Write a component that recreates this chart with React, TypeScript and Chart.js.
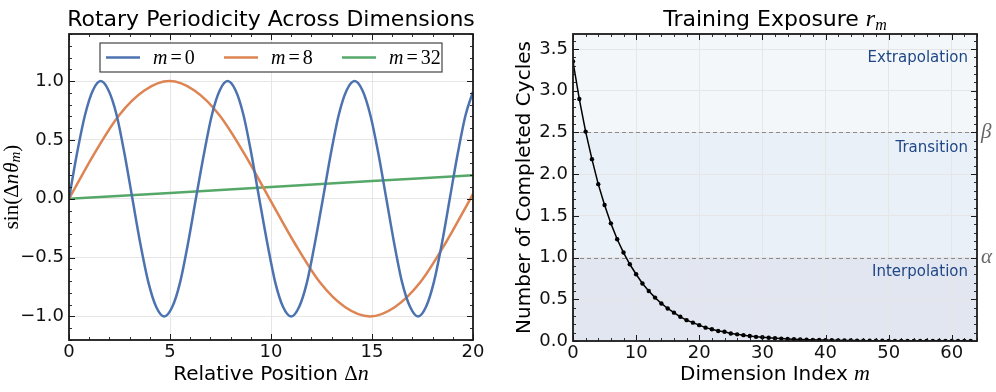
import React, { useEffect, useRef } from 'react';
import { Chart, registerables } from 'chart.js';
Chart.register(...registerables);

// ---------- data ----------
// Left panel: sin(Δn θ_m) for three dimensions
const seriesNames = ['0', '8', '32'];
const seriesColors = ['#4c72b0', '#dd8452', '#55a868'];

const posM0 = [0, 0.39, 0.79, 1.18, 1.57, 1.96, 2.36, 2.75, 3.14, 3.53, 3.93, 4.32, 4.71, 5.11, 5.5, 5.89,
  6.28, 6.68, 7.07, 7.46, 7.85, 8.25, 8.64, 9.03, 9.42, 9.82, 10.21, 10.6, 11.0, 11.39, 11.78, 12.17,
  12.57, 12.96, 13.35, 13.74, 14.14, 14.53, 14.92, 15.32, 15.71, 16.1, 16.49, 16.89, 17.28, 17.67, 18.06, 18.46,
  18.85, 19.24, 19.63, 20];
const sinM0 = [0, 0.38, 0.71, 0.92, 1, 0.92, 0.71, 0.38, 0, -0.38, -0.71, -0.92, -1, -0.92, -0.71, -0.38,
  0, 0.38, 0.71, 0.92, 1, 0.92, 0.71, 0.38, 0, -0.38, -0.71, -0.92, -1, -0.92, -0.71, -0.38,
  0, 0.38, 0.71, 0.92, 1, 0.92, 0.71, 0.38, 0, -0.38, -0.71, -0.92, -1, -0.92, -0.71, -0.38,
  0, 0.38, 0.71, 0.91];

const posM8 = [0, 1.24, 2.48, 3.73, 4.97, 6.21, 7.45, 8.69, 9.93, 11.18, 12.42, 13.66, 14.9, 16.14, 17.39, 18.63, 19.87, 20];
const sinM8 = [0, 0.38, 0.71, 0.92, 1, 0.92, 0.71, 0.38, 0, -0.38, -0.71, -0.92, -1, -0.92, -0.71, -0.38, 0, 0.04];

const posM32 = [0, 5, 10, 15, 20];
const sinM32 = [0, 0.05, 0.1, 0.15, 0.2];

// Right panel: completed cycles r_m per dimension index m = 0..63
const cyclesR = [3.35, 2.9, 2.51, 2.18, 1.88, 1.63, 1.41, 1.22, 1.06, 0.92,
  0.8, 0.69, 0.6, 0.52, 0.45, 0.39, 0.34, 0.29, 0.25, 0.22,
  0.19, 0.16, 0.14, 0.12, 0.11, 0.09, 0.08, 0.07, 0.06, 0.05,
  0.045, 0.039, 0.034, 0.029, 0.025, 0.022, 0.019, 0.016, 0.014, 0.012,
  0.011, 0.009, 0.008, 0.007, 0.006, 0.005, 0.004, 0.004, 0.003, 0.003,
  0.002, 0.002, 0.002, 0.001, 0.001, 0.001, 0.001, 0.001, 0.001, 0,
  0, 0, 0, 0];
const alphaLevel = 1.0;
const betaLevel = 2.5;
const regionNames = ['Extrapolation', 'Transition', 'Interpolation'];
const regionLabelLevels = [3.35, 2.26, 0.78];

// ---------- helpers ----------
const SANS = '"DejaVu Sans", sans-serif';
const SERIF = '"Liberation Serif", "DejaVu Serif", serif';

type Part = { t: string; f: string; dy?: number; gap?: number };

function richWidth(ctx: CanvasRenderingContext2D, parts: Part[]) {
  let w = 0;
  for (const p of parts) {
    ctx.font = p.f;
    w += ctx.measureText(p.t).width + (p.gap || 0);
  }
  return w;
}

function drawRich(ctx: CanvasRenderingContext2D, parts: Part[], x: number, y: number,
  align: 'left' | 'center' | 'right', color: string, baseline: CanvasTextBaseline = 'alphabetic') {
  const w = richWidth(ctx, parts);
  let cx = align === 'left' ? x : align === 'center' ? x - w / 2 : x - w;
  ctx.fillStyle = color;
  ctx.textAlign = 'left';
  ctx.textBaseline = baseline;
  for (const p of parts) {
    ctx.font = p.f;
    ctx.fillText(p.t, cx, y + (p.dy || 0));
    cx += ctx.measureText(p.t).width + (p.gap || 0);
  }
}

function drawFrameTicks(chart: any, xMaj: number, xMin: number, yMaj: number, yMin: number) {
  const { ctx, chartArea: a, scales } = chart;
  const sx = scales.x, sy = scales.y;
  ctx.save();
  ctx.strokeStyle = '#1a1a1a';
  const line = (x1: number, y1: number, x2: number, y2: number) => {
    ctx.beginPath(); ctx.moveTo(x1, y1); ctx.lineTo(x2, y2); ctx.stroke();
  };
  const mark = (step: number, len: number, scale: any, horiz: boolean) => {
    const lo = Math.ceil(scale.min / step - 1e-9), hi = Math.floor(scale.max / step + 1e-9);
    for (let i = lo; i <= hi; i++) {
      const p = Math.round(scale.getPixelForValue(i * step)) + 0.5;
      if (horiz) { line(p, a.bottom, p, a.bottom - len); line(p, a.top, p, a.top + len); }
      else { line(a.left, p, a.left + len, p); line(a.right, p, a.right - len, p); }
    }
  };
  ctx.lineWidth = 0.9;
  mark(xMin, 3, sx, true); mark(yMin, 3, sy, false);
  ctx.lineWidth = 1;
  mark(xMaj, 6, sx, true); mark(yMaj, 6, sy, false);
  ctx.lineWidth = 1.8;
  ctx.strokeRect(a.left, a.top, a.right - a.left, a.bottom - a.top);
  ctx.restore();
}

const fmt1 = (v: any) => Number(v).toFixed(1).replace('-', '\u2212');

// ---------- plugins ----------
const leftDecor = {
  id: 'leftDecor',
  afterDraw(chart: any) {
    const { ctx, chartArea: a } = chart;
    drawFrameTicks(chart, 5, 1, 0.5, 0.1);
    ctx.save();
    // title
    drawRich(ctx, [{ t: 'Rotary Periodicity Across Dimensions', f: `22px ${SANS}` }], (a.left + a.right) / 2, 26, 'center', '#000');
    // x title
    drawRich(ctx, [
      { t: 'Relative Position ', f: `20px ${SANS}` },
      { t: '\u0394', f: `21px ${SERIF}` },
      { t: 'n', f: `italic 22px ${SERIF}` },
    ], (a.left + a.right) / 2, 380, 'center', '#000');
    // y title
    ctx.save();
    ctx.translate(12, (a.top + a.bottom) / 2);
    ctx.rotate(-Math.PI / 2);
    drawRich(ctx, [
      { t: 'sin(', f: `21px ${SERIF}` },
      { t: '\u0394', f: `21px ${SERIF}` },
      { t: 'n', f: `italic 21px ${SERIF}`, gap: 1 },
      { t: '\u03b8', f: `italic 21px ${SERIF}` },
      { t: 'm', f: `italic 15px ${SERIF}`, dy: 4 },
      { t: ')', f: `21px ${SERIF}` },
    ], 0, 0, 'center', '#000', 'middle');
    ctx.restore();
    // legend
    const bw = 342, bh = 29;
    const bx = (a.left + a.right) / 2 - bw / 2, by = a.top + 9;
    ctx.fillStyle = 'rgba(255,255,255,0.9)';
    ctx.fillRect(bx, by, bw, bh);
    ctx.strokeStyle = '#444';
    ctx.lineWidth = 1.2;
    ctx.strokeRect(bx, by, bw, bh);
    const cy = by + bh / 2;
    for (let i = 0; i < seriesNames.length; i++) {
      const x0 = bx + 6 + i * 118;
      ctx.strokeStyle = seriesColors[i];
      ctx.lineWidth = 2.5;
      ctx.beginPath(); ctx.moveTo(x0, cy); ctx.lineTo(x0 + 34, cy); ctx.stroke();
      drawRich(ctx, [
        { t: 'm', f: `italic 20px ${SERIF}`, gap: 3 },
        { t: '=', f: `20px ${SERIF}`, gap: 3 },
        { t: seriesNames[i], f: `20px ${SERIF}` },
      ], x0 + 47, cy + 6, 'left', '#000');
    }
    ctx.restore();
  },
};

const rightDecor = {
  id: 'rightDecor',
  beforeDraw(chart: any) {
    const { ctx, chartArea: a, scales } = chart;
    const sy = scales.y;
    const yA = sy.getPixelForValue(alphaLevel), yB = sy.getPixelForValue(betaLevel);
    ctx.save();
    ctx.fillStyle = '#f3f7fa';
    ctx.fillRect(a.left, a.top, a.right - a.left, yB - a.top);
    ctx.fillStyle = '#eaf0f7';
    ctx.fillRect(a.left, yB, a.right - a.left, yA - yB);
    ctx.fillStyle = '#e1e6f0';
    ctx.fillRect(a.left, yA, a.right - a.left, a.bottom - yA);
    ctx.restore();
  },
  beforeDatasetsDraw(chart: any) {
    const { ctx, chartArea: a, scales } = chart;
    const sy = scales.y;
    ctx.save();
    ctx.strokeStyle = '#8a8a8a';
    ctx.lineWidth = 1;
    ctx.setLineDash([4, 3]);
    for (const lv of [alphaLevel, betaLevel]) {
      const y = Math.round(sy.getPixelForValue(lv)) + 0.5;
      ctx.beginPath(); ctx.moveTo(a.left, y); ctx.lineTo(a.right, y); ctx.stroke();
    }
    ctx.setLineDash([]);
    ctx.font = `15px ${SANS}`;
    ctx.fillStyle = '#1f4786';
    ctx.textAlign = 'right';
    ctx.textBaseline = 'alphabetic';
    for (let i = 0; i < regionNames.length; i++) {
      ctx.fillText(regionNames[i], a.right - 9, sy.getPixelForValue(regionLabelLevels[i]));
    }
    ctx.restore();
  },
  afterDraw(chart: any) {
    const { ctx, chartArea: a, scales } = chart;
    const sy = scales.y;
    drawFrameTicks(chart, 10, 2, 0.5, 0.1);
    ctx.save();
    drawRich(ctx, [
      { t: 'Training Exposure ', f: `22px ${SANS}` },
      { t: 'r', f: `italic 24px ${SERIF}` },
      { t: 'm', f: `italic 16px ${SERIF}`, dy: 4 },
    ], (a.left + a.right) / 2, 26, 'center', '#000');
    drawRich(ctx, [
      { t: 'Dimension Index ', f: `20px ${SANS}` },
      { t: 'm', f: `italic 22px ${SERIF}` },
    ], (a.left + a.right) / 2, 380, 'center', '#000');
    ctx.save();
    ctx.translate(27, (a.top + a.bottom) / 2);
    ctx.rotate(-Math.PI / 2);
    drawRich(ctx, [{ t: 'Number of Completed Cycles', f: `20px ${SANS}` }], 0, 0, 'center', '#000', 'middle');
    ctx.restore();
    drawRich(ctx, [{ t: '\u03b2', f: `italic 21px ${SERIF}` }], a.right + 4, sy.getPixelForValue(betaLevel), 'left', '#666', 'middle');
    drawRich(ctx, [{ t: '\u03b1', f: `italic 21px ${SERIF}` }], a.right + 4, sy.getPixelForValue(alphaLevel), 'left', '#666', 'middle');
    ctx.restore();
  },
};

const tickFont = { family: SANS, size: 18 };
const gridStyle = { color: '#e6e6e6', lineWidth: 1, drawTicks: false };

function leftConfig(): any {
  const pts = (xs: number[], ys: number[]) => xs.map((x, i) => ({ x, y: ys[i] }));
  const all = [pts(posM0, sinM0), pts(posM8, sinM8), pts(posM32, sinM32)];
  return {
    type: 'line',
    data: {
      datasets: all.map((d, i) => ({
        label: 'm=' + seriesNames[i],
        data: d,
        borderColor: seriesColors[i],
        borderWidth: 2.5,
        pointRadius: 0,
        cubicInterpolationMode: 'monotone',
        fill: false,
      })),
    },
    options: {
      responsive: false,
      animation: false,
      devicePixelRatio: 1,
      layout: { padding: { left: 0, right: 25, top: 34, bottom: 0 } },
      plugins: { legend: { display: false }, tooltip: { enabled: false }, title: { display: false } },
      scales: {
        x: {
          type: 'linear', min: 0, max: 20,
          grid: gridStyle, border: { display: false },
          ticks: { stepSize: 5, includeBounds: false, autoSkip: false, maxRotation: 0, font: tickFont, color: '#111', padding: 2 },
          afterFit: (s: any) => { s.height = 52; },
        },
        y: {
          type: 'linear', min: -1.2, max: 1.4,
          grid: gridStyle, border: { display: false },
          ticks: { stepSize: 0.5, includeBounds: false, autoSkip: false, font: tickFont, color: '#111', padding: 5, callback: fmt1 },
          afterFit: (s: any) => { s.width = 69; },
        },
      },
    },
    plugins: [leftDecor],
  };
}

function rightConfig(): any {
  return {
    type: 'line',
    data: {
      datasets: [{
        label: 'r_m',
        data: cyclesR.map((v, i) => ({ x: i, y: v })),
        borderColor: '#000',
        backgroundColor: '#000',
        borderWidth: 1.5,
        pointRadius: 2.2,
        pointBackgroundColor: '#000',
        pointBorderWidth: 0,
        tension: 0,
        fill: false,
      }],
    },
    options: {
      responsive: false,
      animation: false,
      devicePixelRatio: 1,
      layout: { padding: { left: 0, right: 19, top: 34, bottom: 0 } },
      plugins: { legend: { display: false }, tooltip: { enabled: false }, title: { display: false } },
      scales: {
        x: {
          type: 'linear', min: 0, max: 64,
          grid: gridStyle, border: { display: false },
          ticks: { stepSize: 10, includeBounds: false, autoSkip: false, maxRotation: 0, font: tickFont, color: '#111', padding: 2 },
          afterFit: (s: any) => { s.height = 51; },
        },
        y: {
          type: 'linear', min: 0, max: 3.68,
          grid: gridStyle, border: { display: false },
          ticks: { stepSize: 0.5, includeBounds: false, autoSkip: false, font: tickFont, color: '#111', padding: 5, callback: fmt1 },
          afterFit: (s: any) => { s.width = 75; },
        },
      },
    },
    plugins: [rightDecor],
  };
}

export default function App() {
  const leftRef = useRef<HTMLCanvasElement>(null);
  const rightRef = useRef<HTMLCanvasElement>(null);
  useEffect(() => {
    const c1 = new Chart(leftRef.current as HTMLCanvasElement, leftConfig());
    const c2 = new Chart(rightRef.current as HTMLCanvasElement, rightConfig());
    return () => { c1.destroy(); c2.destroy(); };
  }, []);
  return (
    <div style={{ position: 'fixed', left: 0, top: 0, width: 996, height: 392, background: '#fff' }}>
      <canvas ref={leftRef} width={498} height={392}
        style={{ position: 'absolute', left: 0, top: 0, width: 498, height: 392 }} />
      <canvas ref={rightRef} width={498} height={392}
        style={{ position: 'absolute', left: 498, top: 0, width: 498, height: 392 }} />
    </div>
  );
}
